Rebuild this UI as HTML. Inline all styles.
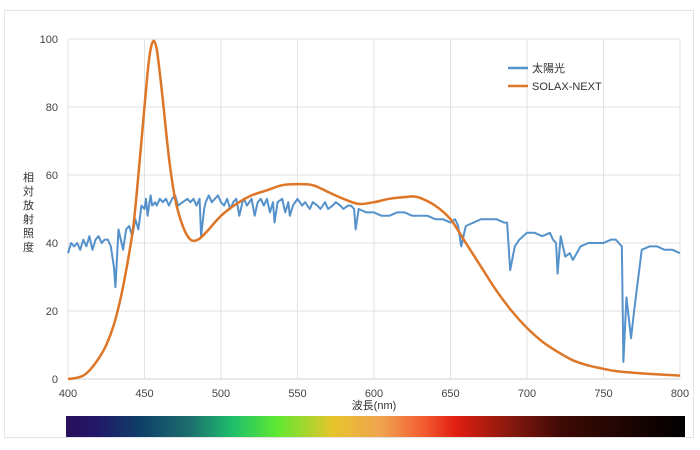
<!DOCTYPE html>
<html><head><meta charset="utf-8"><style>
body{margin:0;background:#fff;}
svg{display:block;font-family:"Liberation Sans","Noto Sans CJK JP",sans-serif;}
</style></head><body>
<svg width="700" height="450" viewBox="0 0 700 450">
<defs>
<linearGradient id="spec" x1="0" x2="1" y1="0" y2="0">
<stop offset="0" stop-color="#2a0f5c"/><stop offset="0.05" stop-color="#22186a"/>
<stop offset="0.12" stop-color="#0e3f68"/><stop offset="0.2" stop-color="#1c6e6e"/>
<stop offset="0.27" stop-color="#1fbf6c"/><stop offset="0.34" stop-color="#5ee832"/>
<stop offset="0.43" stop-color="#e6c52c"/><stop offset="0.51" stop-color="#f0a250"/>
<stop offset="0.58" stop-color="#f25a30"/><stop offset="0.63" stop-color="#e01e10"/>
<stop offset="0.71" stop-color="#8e1a0e"/><stop offset="0.8" stop-color="#3e0a05"/>
<stop offset="1" stop-color="#000"/></linearGradient>
</defs>
<rect x="4.5" y="10.5" width="689" height="427" fill="#fff" stroke="#e4e4e4"/>
<g id="grid"></g><g id="ticks"></g>
<text x="16" y="0" font-size="11" fill="#333">
<tspan x="23" y="181">相</tspan><tspan x="23" y="195">対</tspan><tspan x="23" y="209">放</tspan><tspan x="23" y="223">射</tspan><tspan x="23" y="237">照</tspan><tspan x="23" y="251">度</tspan></text>
<text x="374" y="409" font-size="11" fill="#333" text-anchor="middle">波長(nm)</text>
<g id="series"></g>
<g>
<line x1="508" y1="68" x2="528" y2="68" stroke="#5592cc" stroke-width="2.5"/>
<text x="532" y="72" font-size="11" fill="#333">太陽光</text>
<line x1="508" y1="86" x2="528" y2="86" stroke="#de7628" stroke-width="2.5"/>
<text x="532" y="90" font-size="11" fill="#333">SOLAX-NEXT</text>
</g>
<rect x="66" y="416" width="619" height="21" fill="url(#spec)"/>
</svg>
<script>
const xTicks=[400,450,500,550,600,650,700,750,800];
const yTicks=[0,20,40,60,80,100];
const sunX=[400,402,404,406,408,410,412,414,416,418,420,422,424,426,428,430,431,433,435,436,438,440,442,444,446,448,450,451,452,454,455,457,458,460,462,464,466,468,470,472,475,478,480,482,484,486,487,489,490,492,494,496,498,500,502,504,506,508,510,512,514,515,517,520,522,524,526,528,530,532,534,535,537,540,542,544,545,547,550,553,555,558,560,563,565,568,570,573,575,578,580,583,585,587,588,590,595,600,605,610,615,620,625,630,635,640,645,650,653,655,657,660,670,680,685,687,689,692,695,700,705,710,715,717,719,720,722,725,728,730,735,740,745,750,755,758,760,762,763,765,768,770,775,780,785,790,795,800];
const sunY=[37,40,39,40,38,41,39,42,38,41,42,40,41,41,39,33,27,44,40,38,44,45,42,47,44,51,50,53,48,54,51,52,51,53,52,53,51,53,54,51,52,53,52,53,51,53,42,50,52,54,52,53,54,52,51,53,50,52,53,48,52,53,51,53,48,52,53,51,53,49,52,46,52,53,49,52,48,51,53,51,52,50,52,51,50,52,50,51,52,51,50,51,51,50,44,50,49,49,48,48,49,49,48,48,48,47,47,46,47,45,39,45,47,47,46,46,32,39,41,43,43,42,43,41,40,31,42,36,37,35,39,40,40,40,41,41,40,39,5,24,12,20,38,39,39,38,38,37,36,37,36];
const solX=[400,405,410,415,420,425,430,435,440,443,446,449,452,454,456,458,460,462,466,470,475,480,485,490,500,510,520,530,540,550,560,570,580,590,600,610,620,625,630,640,650,660,670,680,690,700,710,720,730,740,750,760,780,800];
const solY=[0,0.3,1,3,6,10,16,25,37,46,60,75,90,97,99.5,97,90,82,65,53,45,41,41,43,48,51.5,54,55.5,57,57.3,57,55,53,51.5,52,53,53.5,53.7,53.3,51,47,40,33,26,20,15,11,8,5.5,4,3,2.2,1.5,1];
const NS='http://www.w3.org/2000/svg';
const X=v=>68+(v-400)*612/400, Y=v=>379-v*3.4;
const grid=document.getElementById('grid'), ticks=document.getElementById('ticks'), ser=document.getElementById('series');
function mk(tag,attrs,parent){const e=document.createElementNS(NS,tag);for(const k in attrs)e.setAttribute(k,attrs[k]);parent.appendChild(e);return e;}
yTicks.forEach(t=>{
 const l=mk('line',{x1:68,x2:680,y1:Y(t),y2:Y(t),stroke:t===0?'#cfcfcf':'#e2e2e2'},grid);
 
 
 const tx=mk('text',{x:58,y:Y(t)+4,'font-size':11,fill:'#444','text-anchor':'end'},ticks);tx.textContent=t;
 
 
});
xTicks.forEach(t=>{
 const l=mk('line',{x1:X(t),x2:X(t),y1:Y(100),y2:Y(0),stroke:'#e2e2e2'},grid);
 
 
 const tx=mk('text',{x:X(t),y:397,'font-size':11,fill:'#444','text-anchor':'middle'},ticks);tx.textContent=t;
 
 
});
const p1=mk('polyline',{points:sunX.map((x,i)=>X(x)+','+Y(sunY[i])).join(' '),fill:'none',stroke:'#5592cc','stroke-width':2,'stroke-linejoin':'round'},ser);


const pts=solX.map((x,i)=>[X(x),Y(solY[i])]);
let d='M'+pts[0][0]+','+pts[0][1];
for(let i=0;i<pts.length-1;i++){const p0=pts[Math.max(0,i-1)],a=pts[i],b=pts[i+1],p3=pts[Math.min(pts.length-1,i+2)];
 d+=' C'+(a[0]+(b[0]-p0[0])/6)+','+(a[1]+(b[1]-p0[1])/6)+' '+(b[0]-(p3[0]-a[0])/6)+','+(b[1]-(p3[1]-a[1])/6)+' '+b[0]+','+b[1];}
const p2=mk('path',{d:d,fill:'none',stroke:'#de7628','stroke-width':2.5},ser);


</script>
</body></html>
